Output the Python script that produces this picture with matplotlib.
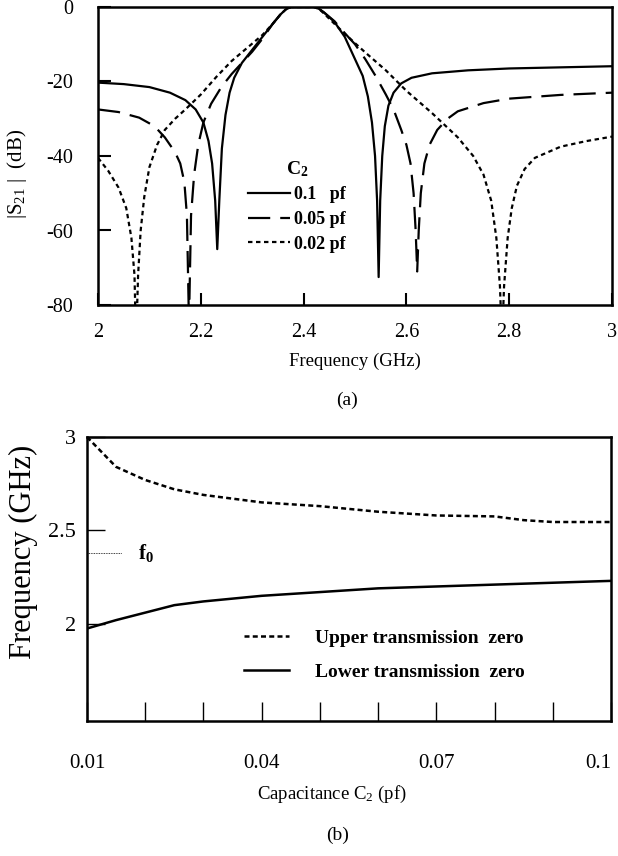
import numpy as np
import matplotlib
matplotlib.use('Agg')
from matplotlib import pyplot

pyplot.rcParams['font.family'] = ['Liberation Serif', 'DejaVu Serif']
pyplot.rcParams['mathtext.fontset'] = 'custom'
pyplot.rcParams['mathtext.rm'] = 'Liberation Serif'
pyplot.rcParams['mathtext.it'] = 'Liberation Serif:italic'
pyplot.rcParams['mathtext.bf'] = 'Liberation Serif:bold'

# (a) |S21| versus frequency for three values of C2
freq_01 = [2.00, 2.05, 2.10, 2.14, 2.17, 2.19, 2.205, 2.215, 2.222, 2.228, 2.232, 2.236, 2.241,
           2.248, 2.256, 2.265, 2.28, 2.30, 2.32, 2.34, 2.355, 2.365, 2.375, 2.42, 2.43, 2.44,
           2.46, 2.48, 2.50, 2.515, 2.525, 2.533, 2.539, 2.543, 2.546, 2.549, 2.553, 2.558,
           2.565, 2.575, 2.59, 2.61, 2.65, 2.72, 2.80, 2.90, 3.00]
s21_01 = [-20.3, -20.7, -21.5, -23.0, -25.0, -27.5, -31, -36, -42, -52, -65, -52, -38,
          -29, -23, -19, -15, -11.5, -8, -4.5, -2.0, -0.7, 0, 0, -0.5, -1.5,
          -4, -8, -14, -18.5, -24, -31, -40, -52, -72.5, -52, -40, -32,
          -26.5, -23, -20.5, -19, -17.8, -17, -16.5, -16.2, -15.9]

freq_005 = [2.00, 2.04, 2.08, 2.11, 2.13, 2.15, 2.16, 2.168, 2.173, 2.177, 2.181, 2.187, 2.195,
            2.205, 2.22, 2.24, 2.26, 2.28, 2.30, 2.32, 2.34, 2.355, 2.365, 2.375, 2.42, 2.43,
            2.44, 2.46, 2.48, 2.50, 2.52, 2.54, 2.56, 2.575, 2.59, 2.60, 2.608, 2.614, 2.618,
            2.621, 2.624, 2.628, 2.635, 2.645, 2.66, 2.68, 2.70, 2.75, 2.80, 2.90, 3.00]
s21_005 = [-27.5, -28.2, -29.7, -32, -35, -39, -42, -47, -56, -85, -56, -45, -37,
           -31, -26, -21.5, -18, -15, -12, -8.5, -4.5, -2, -0.7, 0, 0, -0.5,
           -1.5, -3.8, -7, -10, -14, -18.5, -23.5, -27.5, -33, -37, -42, -50, -60,
           -71, -60, -50, -42, -37, -33, -30, -28, -25.8, -24.6, -23.6, -23.0]

freq_002 = [2.00, 2.02, 2.04, 2.055, 2.065, 2.071, 2.074, 2.078, 2.083, 2.09, 2.10, 2.115, 2.13,
            2.15, 2.17, 2.20, 2.23, 2.26, 2.29, 2.32, 2.34, 2.355, 2.365, 2.375, 2.42, 2.43,
            2.44, 2.46, 2.48, 2.52, 2.56, 2.60, 2.65, 2.70, 2.73, 2.75, 2.765, 2.775, 2.782,
            2.786, 2.790, 2.797, 2.805, 2.815, 2.83, 2.85, 2.90, 2.95, 3.00]
s21_002 = [-40.5, -44, -48.5, -54, -62, -72, -90, -72, -60, -51, -43, -37, -33,
           -30, -27.5, -23.5, -18.8, -14.5, -11, -7.5, -4.5, -2, -0.7, 0, 0, -0.5,
           -1.8, -4.5, -7.2, -12.2, -17, -22.5, -28.5, -35, -40, -45, -52, -62, -75,
           -90, -75, -62, -54, -48, -43.5, -40.5, -37.5, -36, -34.8]

labels_a = ['0.1   pf', '0.05 pf', '0.02 pf']

# (b) transmission zeros versus C2
cap = [0.01, 0.015, 0.02, 0.025, 0.03, 0.04, 0.05, 0.06, 0.07, 0.08, 0.085, 0.09, 0.1]
upper_zero = [3.0, 2.84, 2.77, 2.72, 2.69, 2.65, 2.63, 2.60, 2.58, 2.575, 2.555, 2.545, 2.545]
lower_zero = [1.975, 2.02, 2.06, 2.10, 2.12, 2.15, 2.17, 2.19, 2.20, 2.21, 2.215, 2.22, 2.23]
F0 = 2.38

cap_ticks = [0.01, 0.02, 0.03, 0.04, 0.05, 0.06, 0.07, 0.08, 0.09, 0.1]
cap_tick_labels = ['0.01', '', '', '0.04', '', '', '0.07', '', '', '0.1']

W, H = 618, 856
figure = pyplot.figure(figsize=(W / 100, H / 100), dpi=100)


def px_axes(left, top, right, bottom):
    return figure.add_axes([left / W, 1 - bottom / H, (right - left) / W, (bottom - top) / H])


def style_spines(axes):
    for spine in axes.spines.values():
        spine.set_linewidth(1.8)


# ---- (a)
ax_a = px_axes(98, 7, 612, 305)
ax_a.plot(freq_01, s21_01, color='black', lw=1.6, label=labels_a[0])
line, = ax_a.plot(freq_005, s21_005, color='black', lw=1.6, label=labels_a[1])
line.set_dashes((10, 4.5))
line, = ax_a.plot(freq_002, s21_002, color='black', lw=1.6, label=labels_a[2])
line.set_dashes((2, 1.6))
ax_a.set_xlim(2, 3)
ax_a.set_ylim(-80, 0)
ax_a.set_xticks([2, 2.2, 2.4, 2.6, 2.8, 3])
ax_a.set_xticklabels(['2', '2.2', '2.4', '2.6', '2.8', '3'])
ax_a.set_yticks([0, -20, -40, -60, -80])
ax_a.set_yticklabels(['0', '-20', '-40', '-60', '-80'])
ax_a.tick_params(axis='x', direction='in', length=9, width=1.5, pad=13, labelsize=14.5)
ax_a.tick_params(axis='y', direction='in', length=9, width=1.5, pad=18, labelsize=14.5)
ax_a.set_ylabel('|S$_{21}$ |  (dB)', fontsize=15)
ax_a.yaxis.set_label_coords(-(98 - 29) / 514, (305 - 174) / 298)
style_spines(ax_a)
leg = ax_a.legend(loc='upper left', bbox_to_anchor=(0.275, 0.52), frameon=False,
                  title='C$_\\mathbf{2}$', handlelength=2.3, handletextpad=0.25,
                  labelspacing=0.42, borderpad=0,
                  prop={'weight': 'bold', 'size': 13})
leg.get_title().set_fontweight('bold')
leg.get_title().set_fontsize(14)

figure.text(355 / W, 1 - 361 / H, 'Frequency (GHz)', ha='center', va='center', fontsize=13.5)
figure.text(347 / W, 1 - 400 / H, '(a)', ha='center', va='center', fontsize=14)

# ---- (b)
ax_b = px_axes(87, 437, 611, 721)
line, = ax_b.plot(cap, upper_zero, color='black', lw=1.8, label='Upper transmission  zero')
line.set_dashes((2, 1.3))
ax_b.plot(cap, lower_zero, color='black', lw=1.8, label='Lower transmission  zero')
ax_b.hlines(F0, 0.01, 0.016, colors='black', lw=0.6, linestyles=(0, (1, 1)))
ax_b.text(0.0188, F0, 'f$_\\mathbf{0}$', fontsize=15, fontweight='bold', va='center')
ax_b.set_xlim(0.01, 0.1)
ax_b.set_ylim(1.48, 3.0)
ax_b.set_xticks(cap_ticks)
ax_b.set_xticklabels(cap_tick_labels)
ax_b.get_xticklabels()[-1].set_horizontalalignment('right')
ax_b.set_yticks([2, 2.5, 3])
ax_b.set_yticklabels(['2', '2.5', '3'])
ax_b.tick_params(axis='x', direction='in', length=14, width=1.0, pad=24, labelsize=15)
ax_b.tick_params(axis='y', direction='in', length=13, width=1.0, pad=8, labelsize=16)
ax_b.set_ylabel('Frequency (GHz)', fontsize=22)
ax_b.yaxis.set_label_coords(-(87 - 38) / 524, (721 - 552) / 284)
style_spines(ax_b)
ax_b.legend(loc='upper left', bbox_to_anchor=(0.281, 0.358), frameon=False,
            handlelength=2.3, handletextpad=1.34, labelspacing=0.85, borderpad=0,
            prop={'weight': 'bold', 'size': 14})

figure.text(332 / W, 1 - 794 / H, 'Capacitance C$_2$ (pf)', ha='center', va='center', fontsize=13.5)
figure.text(338 / W, 1 - 835 / H, '(b)', ha='center', va='center', fontsize=14)

figure.savefig('out.png', dpi=100)
